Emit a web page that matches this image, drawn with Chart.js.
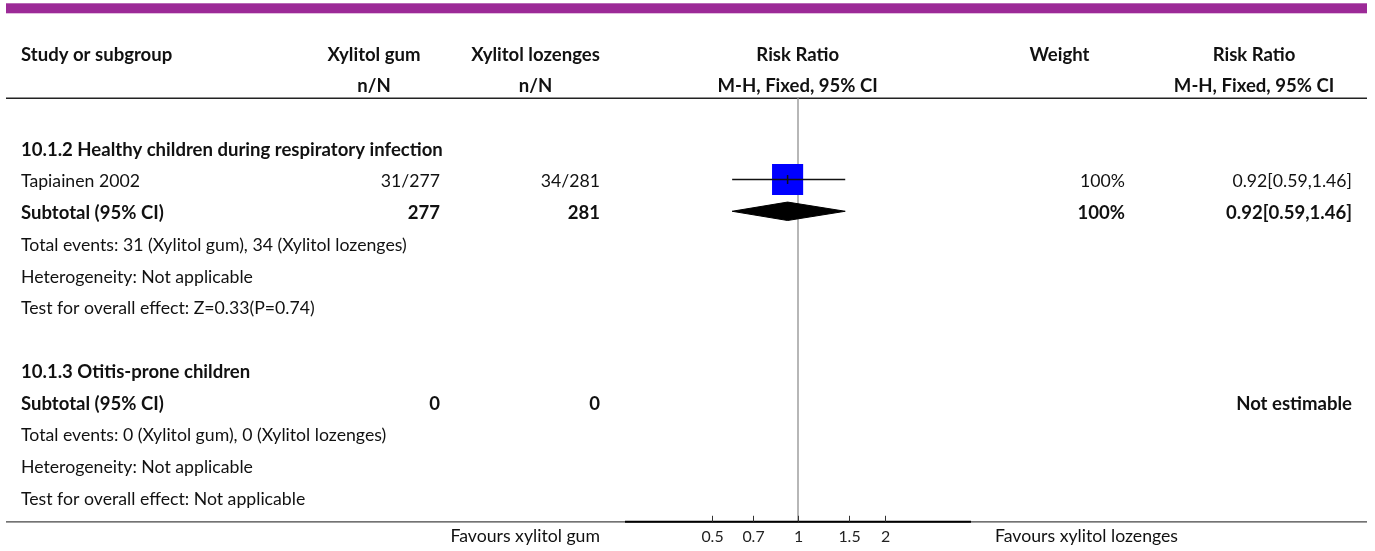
<!DOCTYPE html>
<html>
<head>
<meta charset="utf-8">
<script src="https://cdn.jsdelivr.net/npm/chart.js@4/dist/chart.umd.min.js"></script>
<style>
  html, body { margin: 0; padding: 0; background: #ffffff; }
  #wrap { width: 1375px; height: 551px; position: relative; }
</style>
</head>
<body>
<div id="wrap"><canvas id="c" width="1375" height="551"></canvas></div>
<script>
// ---------------- DATA ----------------
const subgroupNames = ['10.1.2 Healthy children during respiratory infection', '10.1.3 Otitis-prone children'];
const studyNames = ['Tapiainen 2002'];
const studyGumEvents = [31];
const studyGumTotals = [277];
const studyLozEvents = [34];
const studyLozTotals = [281];
const studyRR = [0.92];
const studyLow = [0.59];
const studyHigh = [1.46];
const studyWeight = [100];
const subtotalGum = [277, 0];
const subtotalLoz = [281, 0];
const subtotalRR = [0.92, null];
const subtotalLow = [0.59, null];
const subtotalHigh = [1.46, null];
const subtotalWeight = [100, null];
const totalEventsGum = [31, 0];
const totalEventsLoz = [34, 0];
const heterogeneity = ['Not applicable', 'Not applicable'];
const overallEffect = ['Z=0.33(P=0.74)', 'Not applicable'];
const axisTicks = [0.5, 0.7, 1, 1.5, 2];
const axisRange = [0.25, 4];
const favoursLabels = ['Favours xylitol gum', 'Favours xylitol lozenges'];
const groupNames = ['Xylitol gum', 'Xylitol lozenges'];

// ---------------- LAYOUT ----------------
const W = 1375, H = 551;
const ROW0 = 150, ROWH = 31.75;
const yMin = -ROW0 / ROWH, yMax = (H - ROW0) / ROWH;
const FAM = 'Lato, "Open Sans", sans-serif';
const COL = {
  label: 21,
  gumHead: 374, gumVal: 440,
  lozHead: 535.5, lozVal: 600,
  plotHead: 797.7,
  wHead: 1059.5, wVal: 1125,
  rrHead: 1254, rrVal: 1352
};
const ROW = { head1: -3, head2: -2, rule: -1.63, axis: 11.71, tickLab: 12.18 };
const groupRows = [0, 7];           // row index of each subgroup heading
const studyRows = [1];              // row index for each study

const mctx = document.createElement('canvas').getContext('2d');
function fit(text, weight, target) {
  mctx.font = weight + ' 100px ' + FAM;
  return 100 * target / mctx.measureText(text).width;
}
const FS_N = fit('Total events: 31 (Xylitol gum), 34 (Xylitol lozenges)', 'normal', 386);
const FS_B = fit('10.1.2 Healthy children during respiratory infection', 'bold', 422);
const FS_T = FS_N * 0.9;

function fmtCI(e, l, h) { return e.toFixed(2) + '[' + l.toFixed(2) + ',' + h.toFixed(2) + ']'; }

// text items: [text, x, row, align, bold]
const texts = [];
texts.push(['Study or subgroup', COL.label, ROW.head1, 'left', true]);
texts.push([groupNames[0], COL.gumHead, ROW.head1, 'center', true]);
texts.push([groupNames[1], COL.lozHead, ROW.head1, 'center', true]);
texts.push(['Risk Ratio', COL.plotHead, ROW.head1, 'center', true]);
texts.push(['Weight', COL.wHead, ROW.head1, 'center', true]);
texts.push(['Risk Ratio', COL.rrHead, ROW.head1, 'center', true]);
texts.push(['n/N', COL.gumHead, ROW.head2, 'center', true]);
texts.push(['n/N', COL.lozHead, ROW.head2, 'center', true]);
texts.push(['M-H, Fixed, 95% CI', COL.plotHead, ROW.head2, 'center', true]);
texts.push(['M-H, Fixed, 95% CI', COL.rrHead, ROW.head2, 'center', true]);

subgroupNames.forEach((name, g) => {
  const r0 = groupRows[g];
  texts.push([name, COL.label, r0, 'left', true]);
  let r = r0 + 1;
  if (g === 0) {
    studyNames.forEach((s, i) => {
      const rr = studyRows[i];
      texts.push([s, COL.label, rr, 'left', false]);
      texts.push([studyGumEvents[i] + '/' + studyGumTotals[i], COL.gumVal, rr, 'right', false]);
      texts.push([studyLozEvents[i] + '/' + studyLozTotals[i], COL.lozVal, rr, 'right', false]);
      texts.push([studyWeight[i] + '%', COL.wVal, rr, 'right', false]);
      texts.push([fmtCI(studyRR[i], studyLow[i], studyHigh[i]), COL.rrVal, rr, 'right', false]);
    });
    r = r0 + 1 + studyNames.length;
  }
  texts.push(['Subtotal (95% CI)', COL.label, r, 'left', true]);
  texts.push([String(subtotalGum[g]), COL.gumVal, r, 'right', true]);
  texts.push([String(subtotalLoz[g]), COL.lozVal, r, 'right', true]);
  if (subtotalRR[g] !== null) {
    texts.push([subtotalWeight[g] + '%', COL.wVal, r, 'right', true]);
    texts.push([fmtCI(subtotalRR[g], subtotalLow[g], subtotalHigh[g]), COL.rrVal, r, 'right', true]);
  } else {
    texts.push(['Not estimable', COL.rrVal, r, 'right', true]);
  }
  texts.push(['Total events: ' + totalEventsGum[g] + ' (Xylitol gum), ' + totalEventsLoz[g] + ' (Xylitol lozenges)', COL.label, r + 1, 'left', false]);
  texts.push(['Heterogeneity: ' + heterogeneity[g], COL.label, r + 2, 'left', false]);
  texts.push(['Test for overall effect: ' + overallEffect[g], COL.label, r + 3, 'left', false]);
});

// ---------------- DATASETS ----------------
const MARK_DY = -0.07;
const DIAMOND_H = 0.29;
const datasets = [];
// reference line at RR = 1
datasets.push({
  data: [{ x: 1, y: ROW.rule }, { x: 1, y: ROW.axis }],
  showLine: true, borderColor: '#a6a6a6', borderWidth: 1.6, pointRadius: 0, order: 5
});
// study squares
datasets.push({
  data: studyRR.map((v, i) => ({ x: v, y: studyRows[i] + MARK_DY })),
  pointStyle: 'rect', pointRadius: 22, backgroundColor: '#0000ff', borderColor: '#0000ff', borderWidth: 0, order: 4
});
// study CI lines
studyRR.forEach((v, i) => {
  datasets.push({
    data: [{ x: studyLow[i], y: studyRows[i] + MARK_DY }, { x: studyHigh[i], y: studyRows[i] + MARK_DY }],
    showLine: true, borderColor: '#111', borderWidth: 1.5, pointRadius: 0, order: 3
  });
});
// point estimate ticks
datasets.push({
  data: studyRR.map((v, i) => ({ x: v, y: studyRows[i] + MARK_DY })),
  pointStyle: 'line', rotation: 90, pointRadius: 4.5, borderColor: '#111', borderWidth: 1.5, order: 2
});
// subtotal diamonds
subtotalRR.forEach((v, g) => {
  if (v === null) return;
  const r = groupRows[g] + 1 + studyNames.length + MARK_DY;
  datasets.push({
    data: [
      { x: subtotalLow[g], y: r }, { x: v, y: r - DIAMOND_H },
      { x: subtotalHigh[g], y: r }, { x: v, y: r + DIAMOND_H },
      { x: subtotalLow[g], y: r }
    ],
    showLine: true, fill: 'shape', backgroundColor: '#000', borderColor: '#000', borderWidth: 1,
    pointRadius: 0, tension: 0, order: 1
  });
});

// ---------------- DECORATION PLUGIN ----------------
const deco = {
  id: 'deco',
  beforeDatasetsDraw(chart) {
    const { ctx, scales: { x, y } } = chart;
    ctx.save();
    // purple band
    ctx.fillStyle = '#9c2a97';
    ctx.fillRect(6, 3.3, 1361, 10);
    // header rule
    ctx.strokeStyle = '#222';
    ctx.lineWidth = 1.6;
    ctx.beginPath();
    const ry = y.getPixelForValue(ROW.rule);
    ctx.moveTo(6, ry); ctx.lineTo(1367, ry); ctx.stroke();
    // bottom rule
    const ay = y.getPixelForValue(ROW.axis);
    ctx.strokeStyle = '#444';
    ctx.lineWidth = 1.3;
    ctx.beginPath(); ctx.moveTo(6, ay); ctx.lineTo(1367, ay); ctx.stroke();
    ctx.restore();
  },
  afterDraw(chart) {
    const { ctx, scales: { x, y } } = chart;
    ctx.save();
    // axis
    const ay = y.getPixelForValue(ROW.axis);
    ctx.strokeStyle = '#000';
    ctx.lineWidth = 2;
    ctx.beginPath();
    ctx.moveTo(x.getPixelForValue(axisRange[0]), ay);
    ctx.lineTo(x.getPixelForValue(axisRange[1]), ay);
    ctx.stroke();
    ctx.lineWidth = 1;
    ctx.strokeStyle = '#333';
    ctx.fillStyle = '#222';
    ctx.font = 'normal ' + FS_T + 'px ' + FAM;
    ctx.textAlign = 'center';
    ctx.textBaseline = 'middle';
    const ly = y.getPixelForValue(ROW.tickLab);
    axisTicks.forEach(t => {
      const px = Math.round(x.getPixelForValue(t)) + 0.5;
      ctx.beginPath(); ctx.moveTo(px, ay); ctx.lineTo(px, ay - 6); ctx.stroke();
      ctx.fillText(String(t), px, ly);
    });
    // favours labels
    ctx.font = 'normal ' + FS_N + 'px ' + FAM;
    ctx.fillStyle = '#111';
    ctx.textAlign = 'right';
    ctx.fillText(favoursLabels[0], COL.lozVal, ly);
    ctx.textAlign = 'left';
    ctx.fillText(favoursLabels[1], 995, ly);
    // table text
    texts.forEach(([t, px, row, align, bold]) => {
      ctx.font = (bold ? 'bold ' + FS_B : 'normal ' + FS_N) + 'px ' + FAM;
      ctx.textAlign = align;
      ctx.fillText(t, px, y.getPixelForValue(row));
    });
    ctx.restore();
  }
};

new Chart(document.getElementById('c'), {
  type: 'scatter',
  data: { datasets },
  options: {
    responsive: false,
    animation: false,
    events: [],
    layout: { autoPadding: false, padding: { left: 625, right: W - 971, top: 0, bottom: 0 } },
    plugins: { legend: { display: false }, tooltip: { enabled: false } },
    scales: {
      x: { type: 'logarithmic', min: axisRange[0], max: axisRange[1], display: false },
      y: { type: 'linear', min: yMin, max: yMax, reverse: true, display: false }
    }
  },
  plugins: [deco]
});
</script>
</body>
</html>
